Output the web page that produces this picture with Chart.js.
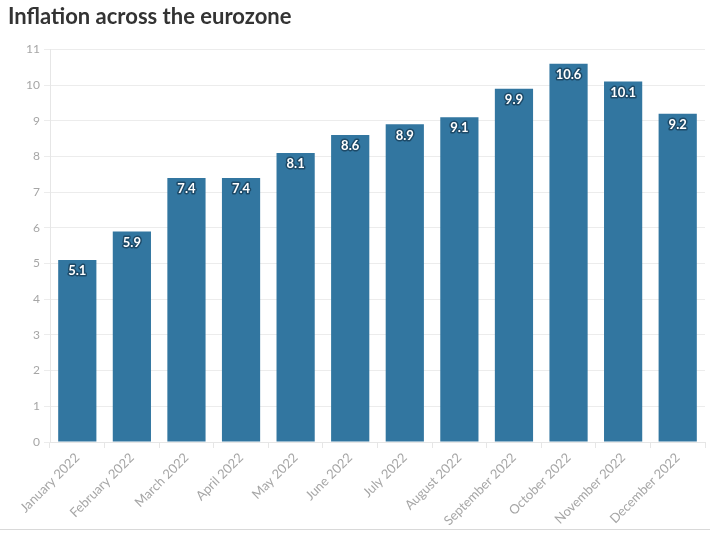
<!DOCTYPE html>
<html>
<head>
<meta charset="utf-8">
<script src="https://cdn.jsdelivr.net/npm/chart.js@4"></script>
<style>
  body { margin: 0; background: #fff; }
  #wrap { width: 710px; height: 529px; border-bottom: 1px solid #d9d9d9; }
</style>
</head>
<body>
<div id="wrap"><canvas id="myChart" width="710" height="529"></canvas></div>
<script>
var months = ["January 2022", "February 2022", "March 2022", "April 2022", "May 2022", "June 2022",
    "July 2022", "August 2022", "September 2022", "October 2022", "November 2022", "December 2022"];
var inflation = [5.1, 5.9, 7.4, 7.4, 8.1, 8.6, 8.9, 9.1, 9.9, 10.6, 10.1, 9.2];

// white labels with dark outline just inside the top of each bar
var barLabels = {
    id: "barLabels",
    afterDatasetsDraw: function (chart) {
        var ctx = chart.ctx;
        var meta = chart.getDatasetMeta(0);
        ctx.save();
        ctx.font = "bold 13px Lato";
        ctx.textAlign = "center";
        ctx.textBaseline = "middle";
        ctx.lineJoin = "round";
        meta.data.forEach(function (bar, i) {
            var txt = String(inflation[i]);
            ctx.lineWidth = 3;
            ctx.strokeStyle = "#1d4a68";
            ctx.strokeText(txt, bar.x, bar.y + 11);
            ctx.fillStyle = "#ffffff";
            ctx.fillText(txt, bar.x, bar.y + 11);
        });
        ctx.restore();
    },
};

const ctx = document.getElementById("myChart").getContext("2d");
const myChart = new Chart(ctx, {
    type: "bar",
    plugins: [barLabels],
    data: {
        labels: months,
        datasets: [
            {
                data: inflation,
                backgroundColor: "#3276a0",
                barPercentage: 0.7,
                categoryPercentage: 1.0,
            },
        ],
    },
    options: {
        responsive: false,
        animation: false,
        layout: { padding: { left: 8, right: 5, bottom: 0 } },
        plugins: {
            legend: { display: false },
            tooltip: { enabled: false },
            title: {
                display: true,
                text: "Inflation across the eurozone",
                align: "start",
                color: "#333333",
                font: { family: "Lato", size: 22, weight: "bold" },
                padding: { top: 4, bottom: 19 },
            },
        },
        scales: {
            x: {
                afterFit: function (scale) {
                    scale.height = 87;
                },
                grid: { drawOnChartArea: false, color: "#e6e6e6", tickLength: 6 },
                border: { color: "#e6e6e6" },
                ticks: {
                    color: "#a6a6a6",
                    font: { family: "Lato", size: 13 },
                    maxRotation: 45,
                    minRotation: 45,
                    padding: 2,
                },
            },
            y: {
                min: 0,
                max: 11,
                afterFit: function (scale) {
                    scale.width = 42;
                },
                grid: { color: "#ececec", tickLength: 6 },
                border: { color: "#e6e6e6" },
                ticks: {
                    stepSize: 1,
                    color: "#a6a6a6",
                    font: { family: "Lato", size: 12 },
                    padding: 4,
                },
            },
        },
    },
});
</script>
</body>
</html>
